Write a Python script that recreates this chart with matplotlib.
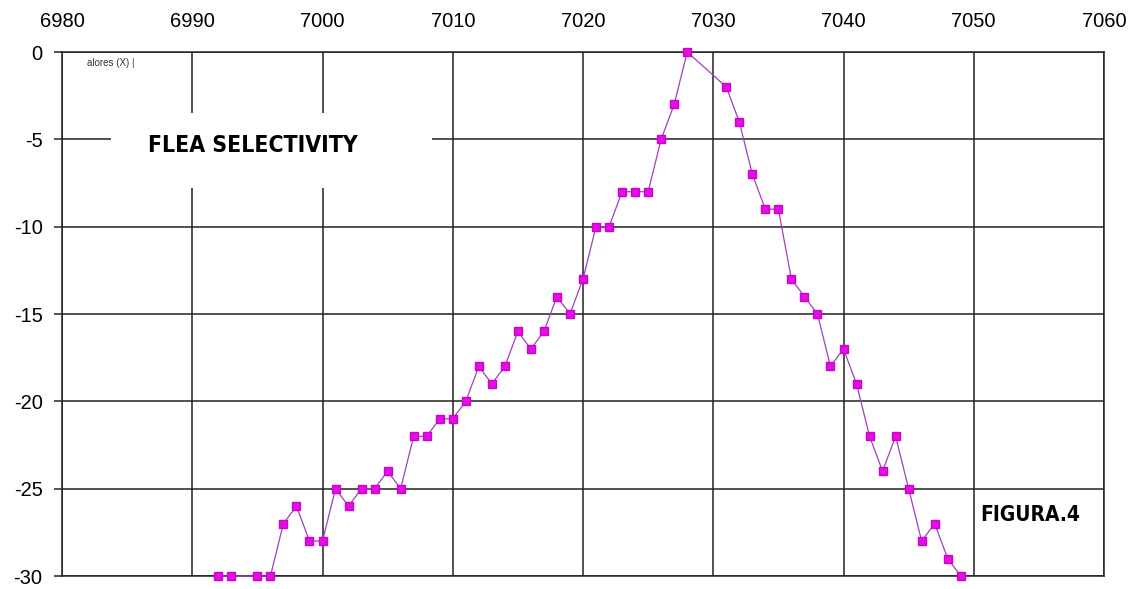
import matplotlib.pyplot as plt
from matplotlib.patches import Rectangle

# frequency (x) vs selectivity in dB (y)
freq = [6992, 6993, 6995, 6996, 6997, 6998, 6999, 7000, 7001, 7002,
        7003, 7004, 7005, 7006, 7007, 7008, 7009, 7010, 7011, 7012,
        7013, 7014, 7015, 7016, 7017, 7018, 7019, 7020, 7021, 7022,
        7023, 7024, 7025, 7026, 7027, 7028, 7031, 7032, 7033, 7034,
        7035, 7036, 7037, 7038, 7039, 7040, 7041, 7042, 7043, 7044,
        7045, 7046, 7047, 7048, 7049]
level = [-30, -30, -30, -30, -27, -26, -28, -28, -25, -26,
         -25, -25, -24, -25, -22, -22, -21, -21, -20, -18,
         -19, -18, -16, -17, -16, -14, -15, -13, -10, -10,
         -8, -8, -8, -5, -3, 0, -2, -4, -7, -9,
         -9, -13, -14, -15, -18, -17, -19, -22, -24, -22,
         -25, -28, -27, -29, -30]

x_ticks = [6980, 6990, 7000, 7010, 7020, 7030, 7040, 7050, 7060]
y_ticks = [0, -5, -10, -15, -20, -25, -30]

title = "FLEA SELECTIVITY"
fig_label = "FIGURA.4"
corner_note = "alores (X) |"

plt.rcParams["font.family"] = ["Liberation Sans", "DejaVu Sans"]
plt.rcParams["axes.unicode_minus"] = False

W, H = 1135, 589
fig = plt.figure(figsize=(W / 100, H / 100), dpi=100)
ax = fig.add_axes([62 / W, 1 - 576 / H, (1104 - 62) / W, (576 - 52) / H])

ax.plot(freq, level, color="#a040c0", linewidth=0.9, zorder=3, clip_on=False)
ax.plot(freq, level, ls="none", marker="s", markersize=6.3,
        markerfacecolor="#e010e0", markeredgecolor="#d000d0",
        zorder=4, clip_on=False)

ax.set_xlim(6980, 7060)
ax.set_ylim(-30, 0)
ax.set_xticks(x_ticks)
ax.set_yticks(y_ticks)
ax.xaxis.tick_top()
ax.tick_params(axis="x", length=0, pad=15, labelsize=14.5)
ax.tick_params(axis="y", length=6, width=1.1, pad=8, labelsize=14.5, color="#222222")
ax.grid(True, color="#222222", linewidth=1.1)
ax.set_axisbelow(True)
for s in ax.spines.values():
    s.set_color("#222222")
    s.set_linewidth(1.1)

# white boxes hiding the grid behind the annotations
ax.add_patch(Rectangle((0.047, 0.7405), 0.308, 0.143, transform=ax.transAxes,
                       facecolor="white", edgecolor="none", zorder=2))
ax.add_patch(Rectangle((0.02, 0.95), 0.09, 0.045, transform=ax.transAxes,
                       facecolor="white", edgecolor="none", zorder=2))

ax.text((253 - 62) / 1042, (576 - 146) / 524, title, transform=ax.transAxes,
        ha="center", va="center", fontsize=16.5, fontweight="bold",
        fontstretch="condensed", family="DejaVu Sans", zorder=5)
ax.text((1030 - 62) / 1042, (576 - 515) / 524, fig_label, transform=ax.transAxes,
        ha="center", va="center", fontsize=15, fontweight="bold",
        fontstretch="condensed", family="DejaVu Sans", zorder=5)
ax.text((87 - 62) / 1042, (576 - 63) / 524, corner_note, transform=ax.transAxes,
        ha="left", va="center", fontsize=7, color="#333333", zorder=5)

fig.savefig("out.png", dpi=100, facecolor="white")
